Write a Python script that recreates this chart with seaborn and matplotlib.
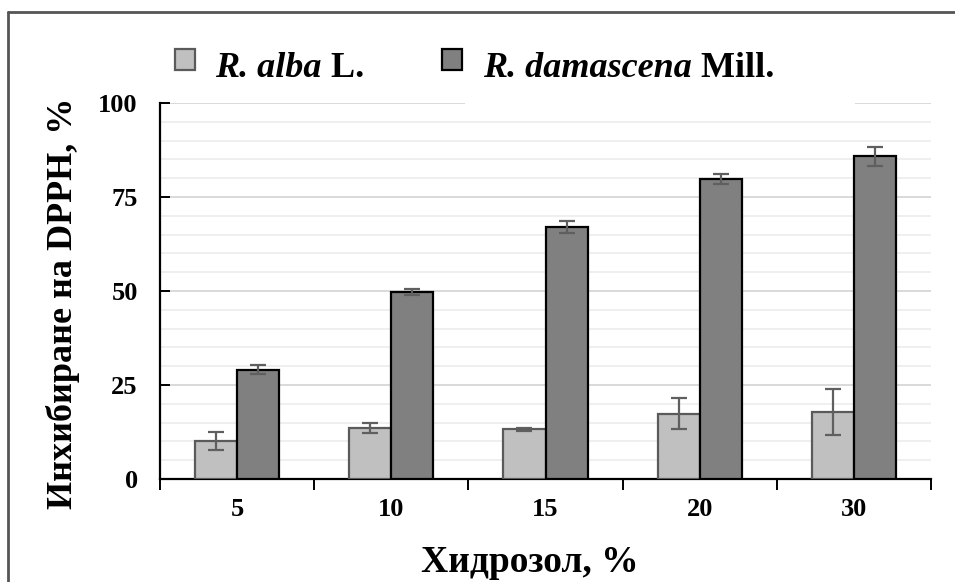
import matplotlib
matplotlib.use("Agg")
import matplotlib.pyplot as plt
import seaborn as sns
import pandas as pd
from matplotlib.lines import Line2D
from matplotlib.patches import Rectangle
from matplotlib.ticker import MultipleLocator, FixedLocator, NullFormatter

# ---- data ----
categories = ["5", "10", "15", "20", "30"]
series = ["R. alba L.", "R. damascena Mill."]
legend_italic = ["R. alba", "R. damascena"]
legend_upright = [" L.", " Mill."]
alba = [10.2, 13.5, 13.2, 17.4, 17.8]
alba_err = [2.4, 1.3, 0.4, 4.2, 6.1]
damascena = [29.0, 49.8, 67.0, 79.8, 85.8]
damascena_err = [1.2, 0.8, 1.5, 1.3, 2.5]
yticks = [0, 25, 50, 75, 100]

df = pd.DataFrame({
    "cat": categories * 2,
    "series": [series[0]] * 5 + [series[1]] * 5,
    "val": alba + damascena,
})
errs = [alba_err, damascena_err]
vals = [alba, damascena]

sns.set_theme(style="white")
plt.rcParams['font.family'] = ['Liberation Serif', 'DejaVu Serif']
plt.rcParams['text.color'] = 'black'
plt.rcParams['axes.labelcolor'] = 'black'
plt.rcParams['xtick.color'] = 'black'
plt.rcParams['ytick.color'] = 'black'

fills = ["#c0c0c0", "#808080"]
edges = ["#5a5a5a", "#000000"]

W, H = 955, 582
fig = plt.figure(figsize=(W / 100, H / 100), dpi=100)
ax = fig.add_axes([160 / W, 1 - 479 / H, (931 - 160) / W, (479 - 103) / H])

sns.barplot(data=df, x="cat", y="val", hue="series", order=categories,
            hue_order=series, palette=fills, width=0.545, errorbar=None,
            legend=False, ax=ax, zorder=3)

bar_containers = list(ax.containers)
for i, cont in enumerate(bar_containers):
    xs = []
    for bar in cont:
        bar.set_edgecolor(edges[i])
        bar.set_linewidth(1.6)
        xs.append(bar.get_x() + bar.get_width() / 2)
    ax.errorbar(xs, vals[i], yerr=errs[i], fmt="none", ecolor="#5f5f5f",
                elinewidth=1.6, capsize=6, capthick=1.6, zorder=4)

ax.set_ylim(0, 100)
ax.set_xlim(-0.5, 4.5)
ax.yaxis.set_major_locator(FixedLocator(yticks))
ax.yaxis.set_minor_locator(MultipleLocator(5))
ax.grid(axis="y", which="major", color="#d9d9d9", linewidth=1.4, zorder=0)
ax.grid(axis="y", which="minor", color="#efefef", linewidth=1.4, zorder=0)
ax.set_axisbelow(True)

# x ticks at category boundaries, labels at centers
ax.xaxis.set_major_locator(FixedLocator([-0.5, 0.5, 1.5, 2.5, 3.5, 4.5]))
ax.xaxis.set_major_formatter(NullFormatter())
ax.set_xticks(range(len(categories)), minor=True)
ax.set_xticklabels(categories, minor=True)
ax.tick_params(axis="x", which="major", direction="out", length=8, width=1.4,
               color="black", bottom=True)
ax.tick_params(axis="x", which="minor", length=0, pad=14, labelsize=19)
ax.tick_params(axis="y", which="major", direction="in", length=7, width=1.4,
               color="black", left=True, labelsize=19, pad=16)
ax.tick_params(axis="y", which="minor", length=0)
for lab in ax.get_xticklabels(minor=True) + ax.get_yticklabels():
    lab.set_fontweight("bold")
    lab.set_color("black")

sns.despine(ax=ax, top=True, right=True)
for s in ["left", "bottom"]:
    ax.spines[s].set_color("black")
    ax.spines[s].set_linewidth(1.6)

ax.set_xlabel("Хидрозол, %", fontsize=27, fontweight="bold", color="black")
ax.set_ylabel("Инхибиране на DPPH, %", fontsize=26, fontweight="bold", color="black")
ax.xaxis.set_label_coords((530 - 160) / 771, (479 - 545) / 376)
ax.yaxis.set_label_coords((80 - 160) / 771, (479 - 303) / 376)

# white legend-box area hiding part of the top gridline (as in the original)
fig.add_artist(Rectangle((465 / W, 1 - 107 / H), 390 / W, 9 / H,
                         transform=fig.transFigure, facecolor="white",
                         edgecolor="none", zorder=2))

# legend (squares + mixed italic/upright bold text)
sq_x = [175, 442]
txt_x = [215, 483]
fig.canvas.draw()
renderer = fig.canvas.get_renderer()
for i in range(2):
    fig.add_artist(Rectangle((sq_x[i] / W, 1 - 70 / H), 20 / W, 21 / H,
                             transform=fig.transFigure, facecolor=fills[i],
                             edgecolor=edges[i], linewidth=1.6, zorder=3))
    t1 = fig.text(txt_x[i] / W, 1 - 77 / H, legend_italic[i], fontsize=26,
                  fontweight="bold", fontstyle="italic", va="baseline", ha="left")
    bb = t1.get_window_extent(renderer=renderer)
    fig.text(bb.x1 / W, 1 - 77 / H, legend_upright[i], fontsize=26,
             fontweight="bold", va="baseline", ha="left")

# figure frame (left and top)
fig.add_artist(Line2D([8 / W, 8 / W], [0, 1 - 12 / H], color="#555555", linewidth=2))
fig.add_artist(Line2D([8 / W, 1], [1 - 12 / H, 1 - 12 / H], color="#555555", linewidth=2))

fig.savefig("out.png", dpi=100)
